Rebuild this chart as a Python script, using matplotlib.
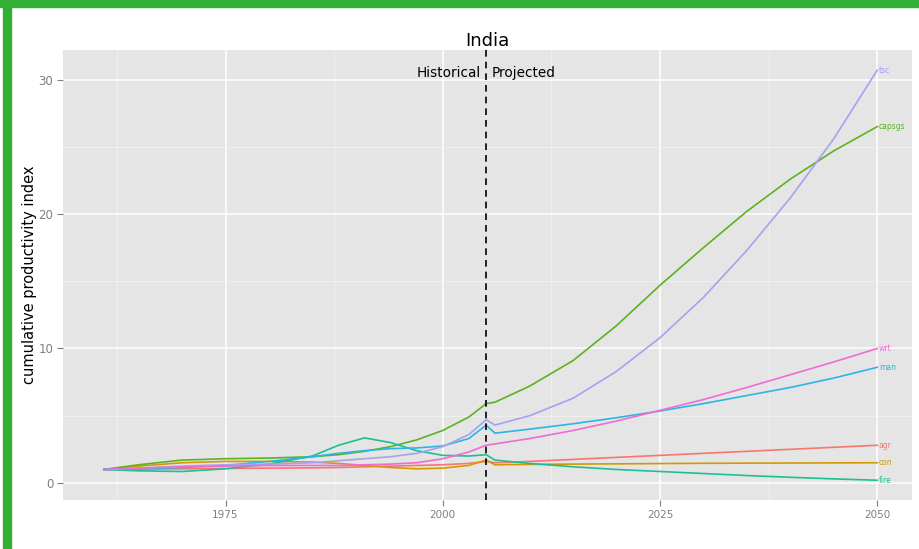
import matplotlib.pyplot as plt
from matplotlib.patches import Rectangle

years = [1961, 1965, 1970, 1975, 1980, 1985, 1988, 1991, 1994, 1997, 2000, 2003, 2005,
         2006, 2010, 2015, 2020, 2025, 2030, 2035, 2040, 2045, 2050]

agr = [1, 1.02, 1.05, 1.08, 1.1, 1.12, 1.15, 1.2, 1.25, 1.3, 1.35, 1.45, 1.6,
       1.5, 1.6, 1.75, 1.9, 2.05, 2.2, 2.35, 2.5, 2.65, 2.8]
capsgs = [1, 1.35, 1.7, 1.8, 1.85, 1.95, 2.1, 2.35, 2.7, 3.2, 3.9, 4.9, 5.9,
          6.0, 7.2, 9.1, 11.7, 14.7, 17.5, 20.2, 22.6, 24.7, 26.5]
con = [1, 1.25, 1.5, 1.6, 1.6, 1.55, 1.45, 1.3, 1.15, 1.05, 1.1, 1.3, 1.7,
       1.35, 1.38, 1.4, 1.42, 1.44, 1.46, 1.47, 1.48, 1.49, 1.5]
fire = [1, 0.9, 0.85, 1.05, 1.4, 2.0, 2.8, 3.35, 3.0, 2.4, 2.05, 2.0, 2.1,
        1.7, 1.45, 1.2, 1.0, 0.85, 0.7, 0.55, 0.42, 0.3, 0.2]
man = [1, 1.05, 1.15, 1.3, 1.6, 1.95, 2.2, 2.4, 2.55, 2.6, 2.75, 3.3, 4.3,
       3.7, 4.0, 4.4, 4.85, 5.35, 5.9, 6.5, 7.1, 7.8, 8.6]
tsc = [1, 1.1, 1.25, 1.35, 1.4, 1.5, 1.65, 1.8, 1.95, 2.2, 2.7, 3.6, 4.7,
       4.3, 5.0, 6.3, 8.3, 10.8, 13.8, 17.3, 21.2, 25.6, 30.7]
wrt = [1, 1.1, 1.2, 1.25, 1.3, 1.3, 1.3, 1.35, 1.4, 1.5, 1.8, 2.3, 2.8,
       2.9, 3.3, 3.9, 4.6, 5.4, 6.2, 7.1, 8.05, 9.0, 10.0]

series = [('agr', agr, '#F8766D'), ('con', con, '#D39A00'), ('capsgs', capsgs, '#5CB31E'),
          ('fire', fire, '#1DBF96'), ('man', man, '#2CB5E3'), ('tsc', tsc, '#A9A0F2'),
          ('wrt', wrt, '#F06CD2')]

fig = plt.figure(figsize=(9.2, 5.49), dpi=100)
ax = fig.add_axes([63/920, 1-500/549, (912-63)/920, 450/549])
ax.set_facecolor('#E5E5E5')

for name, vals, col in series:
    ax.plot(years, vals, color=col, lw=1.2, zorder=3)
    ax.text(years[-1] + 0.2, vals[-1], name, color=col, fontsize=5.5, va='center', ha='left', zorder=4)

ax.axvline(2005, color='black', ls=(0, (4, 3)), lw=1.2, zorder=4)
ax.text(2004.4, 30.5, 'Historical', ha='right', va='center', fontsize=9.8)
ax.text(2005.6, 30.5, 'Projected', ha='left', va='center', fontsize=9.8)

ax.set_xlim(1956.3, 2054.0)
ax.set_ylim(-1.27, 32.2)
ax.set_xticks([1975, 2000, 2025, 2050])
ax.set_yticks([0, 10, 20, 30])
ax.set_xticks([1962.5, 1987.5, 2012.5, 2037.5], minor=True)
ax.set_yticks([5, 15, 25], minor=True)
ax.grid(which='major', color='white', lw=1.1, zorder=0)
ax.grid(which='minor', color='#F2F2F2', lw=0.6, zorder=0)
ax.set_axisbelow(True)
for s in ax.spines.values():
    s.set_visible(False)
ax.tick_params(which='major', colors='#7F7F7F', labelsize=8.5, length=4, width=0.8, pad=3)
ax.tick_params(which='minor', length=0)
ax.tick_params(axis='x', labelsize=7.5)
ax.set_ylabel('cumulative productivity index', fontsize=10.5, labelpad=1)
ax.set_title('India', fontsize=13, pad=3)

# green frame
fig.patches.append(Rectangle((0, 1-7/549), 1, 7/549, transform=fig.transFigure, color='#33B033', zorder=10))
fig.patches.append(Rectangle((3/920, 0), 8/920, 1, transform=fig.transFigure, color='#33B033', zorder=10))

fig.savefig('out.png', dpi=100)
